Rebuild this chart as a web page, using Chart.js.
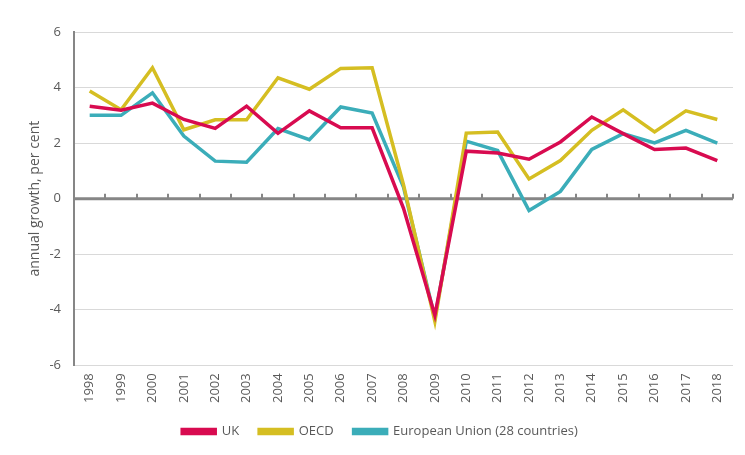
<!DOCTYPE html>
<html>
<head>
<meta charset="utf-8">
<script src="https://cdn.jsdelivr.net/npm/chart.js@4/dist/chart.umd.min.js"></script>
<style>
  html, body { margin: 0; padding: 0; background: #fff; }
  #wrap { width: 745px; height: 455px; }
</style>
</head>
<body>
<div id="wrap"><canvas id="chart"></canvas></div>
<script>
const years = ['1998','1999','2000','2001','2002','2003','2004','2005','2006','2007','2008',
  '2009','2010','2011','2012','2013','2014','2015','2016','2017','2018'];
const ukGrowth = [3.33, 3.18, 3.44, 2.85, 2.53, 3.33, 2.35, 3.16, 2.55, 2.55, -0.35,
  -4.2, 1.71, 1.64, 1.42, 2.04, 2.94, 2.34, 1.77, 1.82, 1.37];
const oecdGrowth = [3.88, 3.2, 4.71, 2.48, 2.84, 2.84, 4.35, 3.94, 4.69, 4.71, 0.5,
  -4.42, 2.36, 2.4, 0.71, 1.37, 2.46, 3.2, 2.4, 3.16, 2.85];
const euGrowth = [3.0, 3.0, 3.81, 2.25, 1.35, 1.31, 2.52, 2.12, 3.3, 3.08, 0.42,
  -4.3, 2.07, 1.73, -0.43, 0.26, 1.77, 2.34, 2.01, 2.46, 2.0];
const yTicks = [-6, -4, -2, 0, 2, 4, 6];

const textColor = '#595959';
const axisGrey = '#868686';
const fontFamily = 'Open Sans, sans-serif';

// small upward tick marks on the zero line, between categories
const zeroTicks = {
  id: 'zeroTicks',
  beforeDatasetsDraw(chart) {
    const { ctx, chartArea, scales } = chart;
    const y0 = scales.y.getPixelForValue(0);
    const step = (chartArea.right - chartArea.left) / years.length;
    ctx.save();
    ctx.strokeStyle = axisGrey;
    ctx.lineWidth = 2;
    for (let i = 1; i <= years.length; i++) {
      const x = Math.round(chartArea.left + i * step);
      ctx.beginPath();
      ctx.moveTo(x, y0);
      ctx.lineTo(x, y0 - 5);
      ctx.stroke();
    }
    ctx.lineWidth = 3;
    ctx.beginPath();
    ctx.moveTo(chartArea.left, y0);
    ctx.lineTo(chartArea.right, y0);
    ctx.stroke();
    ctx.restore();
  }
};

new Chart(document.getElementById('chart'), {
  type: 'line',
  data: {
    labels: years,
    datasets: [
      { label: 'UK', data: ukGrowth, borderColor: '#D80B50', backgroundColor: '#D80B50' },
      { label: 'OECD', data: oecdGrowth, borderColor: '#D5BE22', backgroundColor: '#D5BE22' },
      { label: 'European Union (28 countries)', data: euGrowth, borderColor: '#3BADB9', backgroundColor: '#3BADB9' }
    ]
  },
  options: {
    responsive: true,
    maintainAspectRatio: false,
    animation: false,
    elements: {
      line: { borderWidth: 3.5, tension: 0, borderCapStyle: 'butt', borderJoinStyle: 'miter' },
      point: { radius: 0 }
    },
    layout: { padding: { top: 32, right: 12, left: 27, bottom: 7 } },
    plugins: {
      legend: {
        position: 'bottom',
        labels: {
          boxWidth: 33,
          boxHeight: 4,
          padding: 20,
          color: textColor,
          font: { family: fontFamily, size: 13 }
        }
      },
      tooltip: { enabled: false }
    },
    scales: {
      x: {
        offset: true,
        afterFit(scale) { scale.height = scale.height - 6; },
        grid: { display: false, drawTicks: false },
        border: { display: false },
        ticks: {
          color: textColor,
          maxRotation: 90,
          minRotation: 90,
          padding: 8,
          autoSkip: false,
          font: { family: fontFamily, size: 13 }
        }
      },
      y: {
        min: -6,
        max: 6,
        afterBuildTicks(scale) {
          scale.ticks = yTicks.map(v => ({ value: v }));
        },
        afterFit(scale) { scale.width = 47; },
        grid: {
          drawTicks: false,
          color: ctx => ctx.tick && ctx.tick.value === 0 ? 'rgba(0,0,0,0)' : '#D9D9D9',
          lineWidth: 1
        },
        border: { display: true, color: axisGrey, width: 2 },
        ticks: {
          color: textColor,
          padding: 13,
          font: { family: fontFamily, size: 13 }
        },
        title: {
          display: true,
          text: 'annual growth, per cent',
          color: textColor,
          padding: { top: 0, bottom: 0 },
          font: { family: fontFamily, size: 14 }
        }
      }
    }
  },
  plugins: [zeroTicks]
});
</script>
</body>
</html>
